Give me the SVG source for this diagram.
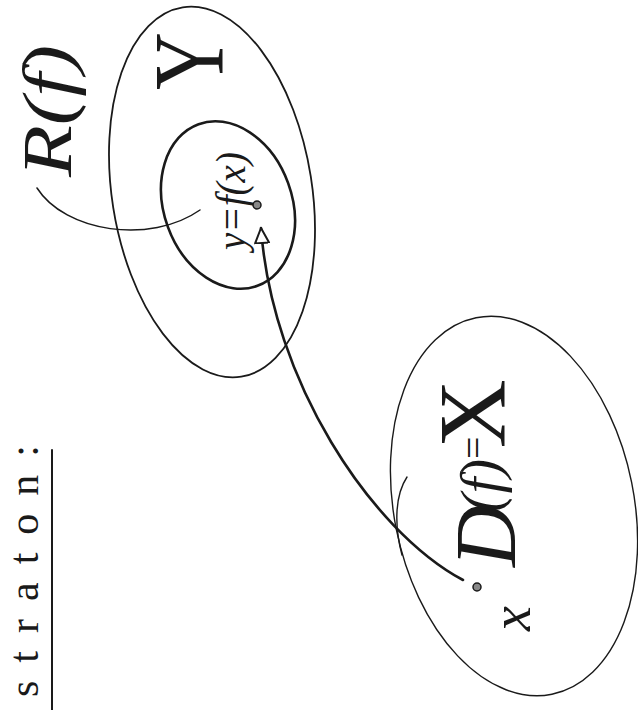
<svg xmlns="http://www.w3.org/2000/svg" width="638" height="710" viewBox="0 0 638 710">
<defs>
<style>
.ln{fill:none;stroke:#1a1a1a;stroke-linecap:round}
.t{font-family:"Liberation Serif","DejaVu Serif",serif;fill:#1a1a1a}
.it{font-style:italic}
</style>
<marker id="ah" markerUnits="userSpaceOnUse" markerWidth="22" markerHeight="18" refX="16" refY="8" orient="auto">
<path d="M1,1 L16,8 L1,15 Z" fill="#fff" stroke="#1a1a1a" stroke-width="2" stroke-linejoin="round"/>
</marker>
</defs>
<rect width="638" height="710" fill="#fff"/>

<g id="title">
<text class="t" font-size="42" letter-spacing="18" transform="translate(38,697) rotate(-90)">straton:</text>
<line class="ln" x1="52" y1="450" x2="52" y2="710" stroke-width="2"/>
</g>

<g id="node-Y">
<ellipse class="ln" cx="212" cy="192" rx="100" ry="187" transform="rotate(-9 212 192)" stroke-width="1.8"/>
<text class="t" font-size="100" transform="translate(222,90) rotate(-90) scale(0.8,1)">Y</text>
</g>

<g id="node-Rf">
<ellipse class="ln" cx="228" cy="205" rx="64" ry="86" transform="rotate(-20 228 205)" stroke-width="2.6"/>
<text class="t it" font-size="42" textLength="98" lengthAdjust="spacingAndGlyphs" transform="translate(245,250) rotate(-90)">y=f(x)</text>
<circle cx="257" cy="205" r="4" fill="#888" stroke="#1a1a1a" stroke-width="1.5"/>
</g>

<g id="label-Rf">
<text class="t it" font-size="70" textLength="132" lengthAdjust="spacingAndGlyphs" transform="translate(71,177) rotate(-90)">R(f)</text>
</g>

<g id="node-X">
<ellipse class="ln" cx="514" cy="506" rx="120" ry="192" transform="rotate(-11.4 514 506)" stroke-width="1.4"/>
<path class="ln" d="M407,477 C395,495 394,525 402,555" stroke-width="1.4"/>
<text class="t it" font-size="86" transform="translate(515,567) rotate(-90)"><tspan x="0">D</tspan><tspan x="55" dy="-15" font-size="56">(f)</tspan> <tspan x="108" dy="-13" font-size="40" font-style="normal">=</tspan> <tspan x="119" dy="18" font-size="95" font-style="normal">X</tspan></text>
<circle cx="477" cy="587" r="4" fill="#888" stroke="#1a1a1a" stroke-width="1.5"/>
<text class="t it" font-size="56" transform="translate(530,631) rotate(-90)">x</text>
</g>

<g id="connectors">
<path class="ln" d="M463,580 C370,530 272,380 261,228" stroke-width="2.6" marker-end="url(#ah)"/>
<path class="ln" d="M37,188 C65,232 150,245 200,210" stroke-width="1.5"/>
</g>
</svg>
